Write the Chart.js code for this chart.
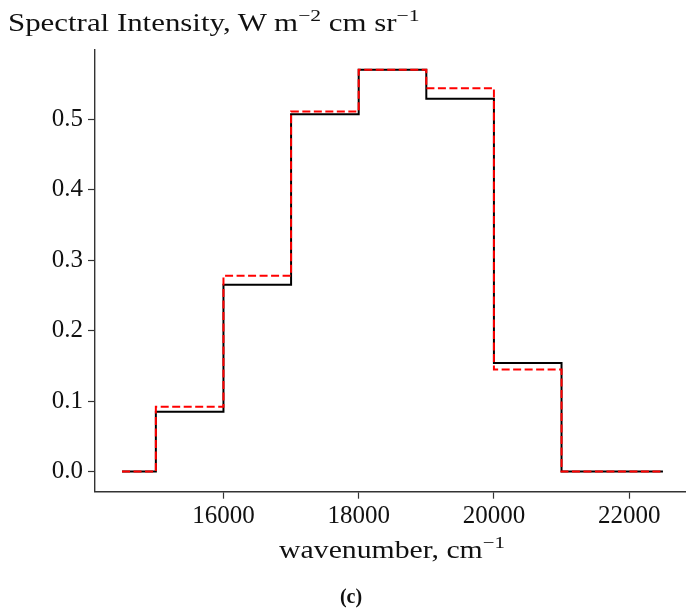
<!DOCTYPE html>
<html>
<head>
<meta charset="utf-8">
<script src="https://cdn.jsdelivr.net/npm/chart.js@4.4.1/dist/chart.umd.min.js"></script>
<style>
  html, body { margin: 0; padding: 0; background: #fff; }
  #wrap { position: relative; width: 686px; height: 614px; overflow: hidden; font-family: "Liberation Serif", serif; color: #111; }
  #myChart { position: absolute; left: 0; top: 0; }
  .lbl { position: absolute; white-space: nowrap; line-height: 1; }
  sup { font-size: 70%; vertical-align: 0.55em; line-height: 0; }
  /* the serif face is a bit narrow, widen the long labels */
  #title { left: 8px; top: 10px; font-size: 25px; transform-origin: 0 0; transform: scaleX(1.235); }
  #xlabel { left: 392px; top: 537px; font-size: 25px; transform: translateX(-50%) scaleX(1.19); }
  #caption { left: 351px; top: 586px; font-size: 20px; font-weight: bold; transform: translateX(-50%); }
</style>
</head>
<body>
<div id="wrap">
  <canvas id="myChart" width="690" height="614"></canvas>
  <div class="lbl" id="title">Spectral Intensity, W m<sup>−2</sup> cm sr<sup>−1</sup></div>
  <div class="lbl" id="xlabel">wavenumber, cm<sup>−1</sup></div>
  <div class="lbl" id="caption">(c)</div>
</div>
<script>
// bin edges (cm^-1) and the step value that starts at each edge
const wavenumbers = [14500, 15000, 16000, 17000, 18000, 19000, 20000, 21000, 22500];
const intensityBlack = [0, 0.085, 0.265, 0.507, 0.570, 0.529, 0.154, 0, 0];
const intensityRed = [0, 0.092, 0.278, 0.511, 0.570, 0.544, 0.145, 0, 0];

const xTicks = [16000, 18000, 20000, 22000];
const yTicks = [0, 0.1, 0.2, 0.3, 0.4, 0.5];

const tickFont = { family: 'Liberation Serif', size: 25 };
const spineColor = '#333333';

function ToPoints(xs, ys){
    return xs.map((x, i) => ({ x: x, y: ys[i] }));
}

function DrawChart(){
    const ctx = document.getElementById('myChart').getContext('2d');

    new Chart(ctx, {
        type: 'line',
        data: {
            datasets: [
                {
                    data: ToPoints(wavenumbers, intensityRed),
                    borderColor: '#ff0000',
                    borderWidth: 2,
                    borderDash: [8, 3.5],
                    stepped: 'before',
                    pointRadius: 0,
                    fill: false,
                    order: 0
                },
                {
                    data: ToPoints(wavenumbers, intensityBlack),
                    borderColor: '#000000',
                    borderWidth: 2,
                    stepped: 'before',
                    pointRadius: 0,
                    fill: false,
                    order: 1
                }
            ]
        },
        options: {
            responsive: false,
            devicePixelRatio: 1,
            animation: false,
            layout: { padding: { top: 49.5, left: 0, right: 0, bottom: 0 } },
            plugins: {
                legend: { display: false },
                tooltip: { enabled: false }
            },
            scales: {
                x: {
                    type: 'linear',
                    min: 14100,
                    max: 22900,
                    afterBuildTicks: (scale) => { scale.ticks = xTicks.map(v => ({ value: v })); },
                    afterFit: (scale) => { scale.height = 122.3; },
                    grid: { drawOnChartArea: false, drawTicks: true, tickLength: 7, tickWidth: 1.2, color: spineColor },
                    border: { display: true, color: spineColor, width: 1.4 },
                    ticks: { font: tickFont, color: '#111', padding: 3, maxRotation: 0, callback: v => String(v) }
                },
                y: {
                    min: -0.0285,
                    max: 0.5988,
                    afterBuildTicks: (scale) => { scale.ticks = yTicks.map(v => ({ value: v })); },
                    afterFit: (scale) => { scale.width = 95; },
                    grid: { drawOnChartArea: false, drawTicks: true, tickLength: 7, tickWidth: 1.2, color: spineColor },
                    border: { display: true, color: spineColor, width: 1.4 },
                    ticks: { font: tickFont, color: '#111', padding: 5, callback: v => v.toFixed(1) }
                }
            }
        }
    });
}

DrawChart();
</script>
</body>
</html>
